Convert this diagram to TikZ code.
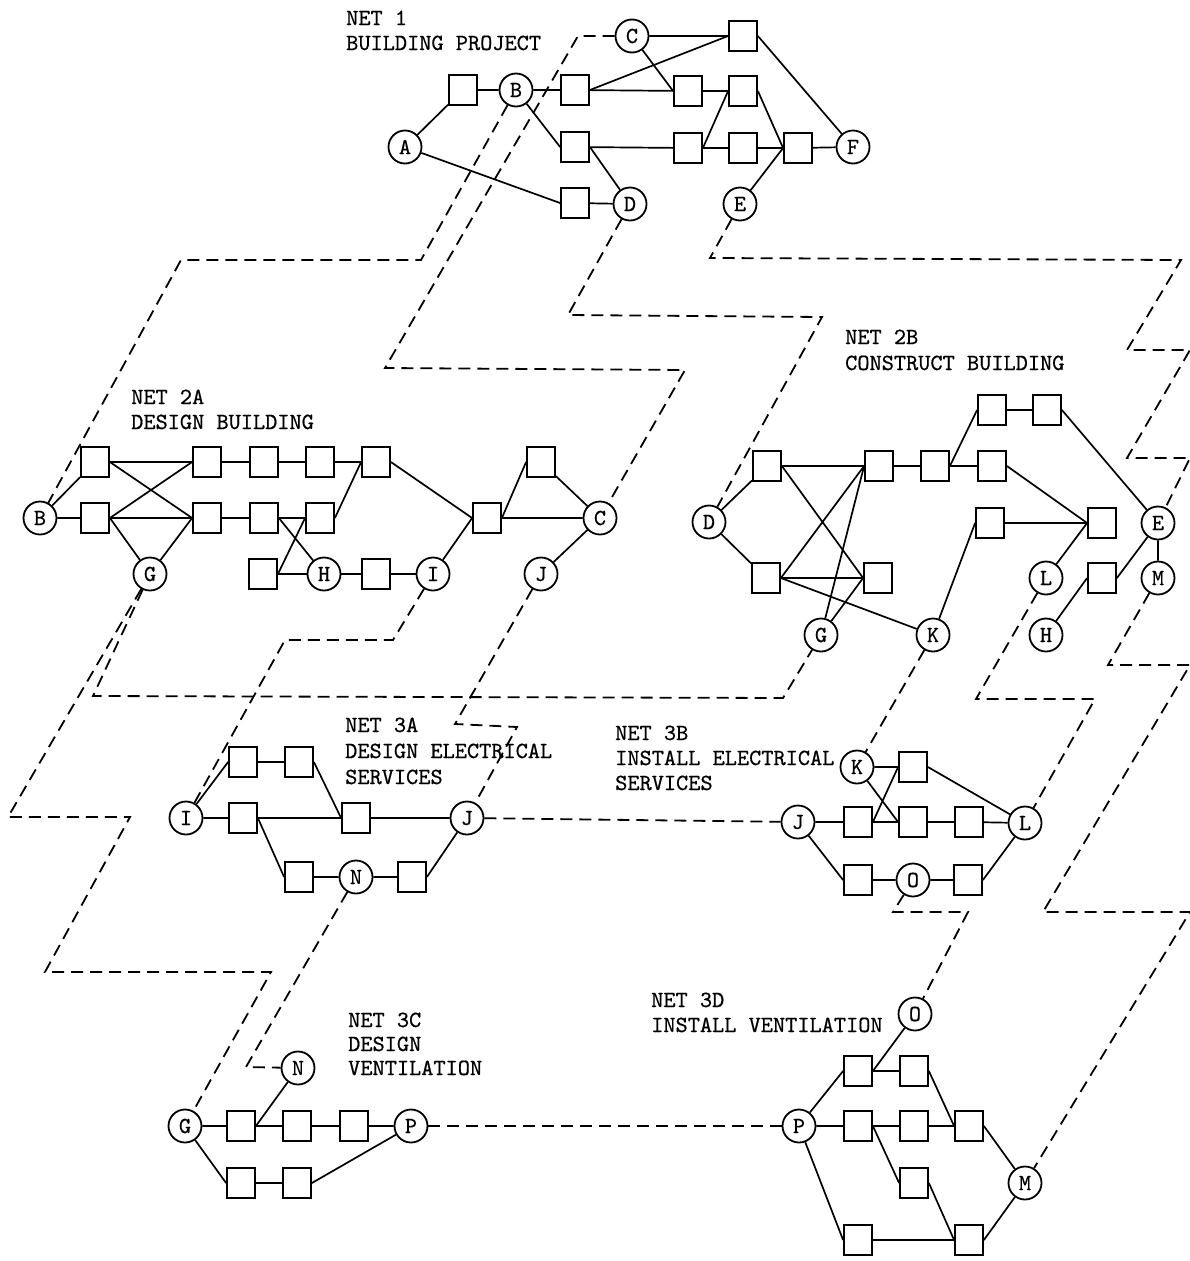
\documentclass[tikz,border=0pt]{standalone}
\usepackage{fontspec}
\newfontfamily\tw[FakeBold=0.6]{lmmono10-regular.otf}
\begin{document}
\begin{tikzpicture}[x=1pt,y=-1pt,
  ev/.style={circle,draw,line width=1.8pt,minimum size=33pt,inner sep=0pt,font=\fontsize{23}{23}\tw},
  act/.style={rectangle,draw,line width=1.8pt,minimum width=28pt,minimum height=30pt,inner sep=0pt},
  ln/.style={line width=1.7pt},
  dl/.style={line width=1.8pt,dash pattern=on 12pt off 7pt},
  lbl/.style={anchor=base west,inner sep=0pt,font=\fontsize{23.2}{25}\tw}]
\fill[white] (0,0) rectangle (1190,1261);
\useasboundingbox (0,0) rectangle (1190,1261);

% ---------- labels
\node[lbl] (t1a) at (346,25) {NET 1};
\node[lbl] (t1b) at (346,50) {BUILDING PROJECT};
\node[lbl] (t2aa) at (131,404) {NET 2A};
\node[lbl] (t2ab) at (131,429) {DESIGN BUILDING};
\node[lbl] (t2ba) at (845,344) {NET 2B};
\node[lbl] (t2bb) at (845,370) {CONSTRUCT BUILDING};
\node[lbl] (t3aa) at (345,732) {NET 3A};
\node[lbl] (t3ab) at (345,758) {DESIGN ELECTRICAL};
\node[lbl] (t3ac) at (345,784) {SERVICES};
\node[lbl] (t3ba) at (615,740) {NET 3B};
\node[lbl] (t3bb) at (615,765) {INSTALL ELECTRICAL};
\node[lbl] (t3bc) at (615,790) {SERVICES};
\node[lbl] (t3ca) at (348,1027) {NET 3C};
\node[lbl] (t3cb) at (348,1051) {DESIGN};
\node[lbl] (t3cc) at (348,1075) {VENTILATION};
\node[lbl] (t3da) at (651,1007) {NET 3D};
\node[lbl] (t3db) at (651,1032) {INSTALL VENTILATION};

% ---------- NET 1
\node[ev] (aA) at (405,147) {A};
\node[act] (as1) at (463,90) {};
\node[ev] (aB) at (516,90) {B};
\node[ev] (aC) at (632,36) {C};
\node[act] (as2) at (743,36) {};
\node[act] (as3) at (575,90) {};
\node[act] (as4) at (688,91) {};
\node[act] (as5) at (743,91) {};
\node[act] (as6) at (575,147) {};
\node[act] (as7) at (688,148) {};
\node[act] (as8) at (743,148) {};
\node[act] (as9) at (798,148) {};
\node[ev] (aF) at (853,147) {F};
\node[act] (as10) at (575,203) {};
\node[ev] (aD) at (630,204) {D};
\node[ev] (aE) at (740,204) {E};
\draw[ln] (aA) -- (as1) -- (aB) -- (as3) -- (as4) -- (as5);
\draw[ln] (aB) -- (as6.west) (aA) -- (as10.west) (as10) -- (aD) (as6.east) -- (aD);
\draw[ln] (as6) -- (as7) -- (as8) -- (as9) -- (aF);
\draw[ln] (as7.east) -- (as5.west) (as3.east) -- (as2.west) (aC) -- (as2.west) (aC) -- (as4.west);
\draw[ln] (as5.east) -- (as9.west) (aE) -- (as9.west) (as2.east) -- (aF);

% ---------- NET 2A
\node[ev] (bB) at (40,518) {B};
\node[act] (bs1) at (95,462) {};
\node[act] (bs2) at (95,518) {};
\node[act] (bs3) at (207,462) {};
\node[act] (bs4) at (264,462) {};
\node[act] (bs5) at (320,462) {};
\node[act] (bs6) at (376,462) {};
\node[act] (bs7) at (207,518) {};
\node[act] (bs8) at (264,518) {};
\node[act] (bs9) at (320,518) {};
\node[act] (bs10) at (487,518) {};
\node[act] (bs11) at (541,462) {};
\node[ev] (bC) at (600,518) {C};
\node[ev] (bG) at (150,574) {G};
\node[act] (bs12) at (263,574) {};
\node[ev] (bH) at (324,574) {H};
\node[act] (bs13) at (376,574) {};
\node[ev] (bI) at (433,574) {I};
\node[ev] (bJ) at (541,574) {J};
\draw[ln] (bB) -- (bs1) (bB) -- (bs2);
\draw[ln] (bs1) -- (bs3) -- (bs4) -- (bs5) -- (bs6);
\draw[ln] (bs1.east) -- (bs7.west) (bs2.east) -- (bs3.west) (bs2) -- (bs7) -- (bs8) -- (bs9);
\draw[ln] (bs2.east) -- (bG) (bG) -- (bs7.west);
\draw[ln] (bs9.east) -- (bs6.west) (bs8.east) -- (bH) (bs12.east) -- (bs9.west);
\draw[ln] (bs12) -- (bH) -- (bs13) -- (bI);
\draw[ln] (bs6.east) -- (bs10.west) (bI) -- (bs10.west) (bs10.east) -- (bs11.west);
\draw[ln] (bs10) -- (bC) (bs11) -- (bC) (bJ) -- (bC);

% ---------- NET 2B
\node[act] (cs1) at (992,410) {};
\node[act] (cs2) at (1047,410) {};
\node[act] (cs3) at (767,466) {};
\node[act] (cs4) at (879,466) {};
\node[act] (cs5) at (935,466) {};
\node[act] (cs6) at (992,466) {};
\node[ev] (cD) at (709,522) {D};
\node[act] (cs7) at (990,523) {};
\node[act] (cs8) at (1102,523) {};
\node[ev] (cE) at (1158,523) {E};
\node[act] (cs9) at (766,578) {};
\node[act] (cs10) at (878,578) {};
\node[ev] (cL) at (1046,578) {L};
\node[act] (cs11) at (1102,578) {};
\node[ev] (cM) at (1158,578) {M};
\node[ev] (cG) at (821,635) {G};
\node[ev] (cK) at (933,635) {K};
\node[ev] (cH) at (1046,635) {H};
\draw[ln] (cD) -- (cs3) (cD) -- (cs9);
\draw[ln] (cs3) -- (cs4) -- (cs5) -- (cs6);
\draw[ln] (cs3.east) -- (cs10.west) (cs9.east) -- (cs4.west) (cs9) -- (cs10) (cs9.east) -- (cK);
\draw[ln] (cG) -- (cs4.west) (cG) -- (cs10.west);
\draw[ln] (cs5.east) -- (cs1.west) (cs1) -- (cs2) (cs2.east) -- (cE);
\draw[ln] (cs6.east) -- (cs8.west) (cs7) -- (cs8) (cK) -- (cs7.west) (cL) -- (cs8.west);
\draw[ln] (cH) -- (cs11.west) (cs11.east) -- (cE) (cE) -- (cM);

% ---------- NET 3A
\node[act] (ds1) at (243,762) {};
\node[act] (ds2) at (299,762) {};
\node[ev] (dI) at (186,818) {I};
\node[act] (ds3) at (243,818) {};
\node[act] (ds4) at (356,818) {};
\node[ev] (dJ) at (467,818) {J};
\node[act] (ds5) at (299,877) {};
\node[ev] (dN) at (356,877) {N};
\node[act] (ds6) at (412,877) {};
\draw[ln] (dI) -- (ds1.west) (dI) -- (ds3) -- (ds4) -- (dJ);
\draw[ln] (ds3.east) -- (ds5.west) (ds1) -- (ds2) (ds2.east) -- (ds4.west);
\draw[ln] (ds5) -- (dN) -- (ds6) (ds6.east) -- (dJ);

% ---------- NET 3B
\node[ev] (eK) at (857,767) {K};
\node[act] (es1) at (913,767) {};
\node[ev] (eJ) at (798,822) {J};
\node[act] (es2) at (858,822) {};
\node[act] (es3) at (913,822) {};
\node[act] (es4) at (969,822) {};
\node[ev] (eL) at (1025,823) {L};
\node[act] (es5) at (858,880) {};
\node[ev] (eO) at (913,880) {O};
\node[act] (es6) at (968,880) {};
\draw[ln] (eK) -- (es1) (eK) -- (es3.west) (es2.east) -- (es1.west);
\draw[ln] (eJ) -- (es2) -- (es3) -- (es4) -- (eL) (es1.east) -- (eL);
\draw[ln] (eJ) -- (es5.west) (es5) -- (eO) -- (es6) (es6.east) -- (eL);

% ---------- NET 3C
\node[ev] (fN) at (298,1068) {N};
\node[ev] (fG) at (185,1126) {G};
\node[act] (fs1) at (241,1126) {};
\node[act] (fs2) at (297,1126) {};
\node[act] (fs3) at (354,1126) {};
\node[ev] (fP) at (411,1126) {P};
\node[act] (fs4) at (241,1183) {};
\node[act] (fs5) at (297,1183) {};
\draw[ln] (fG) -- (fs1) -- (fs2) -- (fs3) -- (fP) (fN) -- (fs1.east);
\draw[ln] (fG) -- (fs4.west) (fs4) -- (fs5) (fs5.east) -- (fP);

% ---------- NET 3D
\node[ev] (gO) at (915,1014) {O};
\node[act] (gs1) at (858,1071) {};
\node[act] (gs2) at (914,1071) {};
\node[ev] (gP) at (799,1126) {P};
\node[act] (gs3) at (858,1126) {};
\node[act] (gs4) at (914,1126) {};
\node[act] (gs5) at (969,1126) {};
\node[act] (gs6) at (914,1183) {};
\node[ev] (gM) at (1025,1183) {M};
\node[act] (gs7) at (858,1240) {};
\node[act] (gs8) at (969,1240) {};
\draw[ln] (gO) -- (gs1.east) (gs1) -- (gs2) (gs2.east) -- (gs5.west);
\draw[ln] (gP) -- (gs1.west) (gP) -- (gs3) -- (gs4) -- (gs5) (gs3.east) -- (gs6.west);
\draw[ln] (gs5.east) -- (gM) (gs6.east) -- (gs8.west) (gP) -- (gs7.west) (gs7) -- (gs8) (gs8.east) -- (gM);

% ---------- dashed links between nets
\draw[dl] (aB) -- (421,260) -- (181,260) -- (bB);
\draw[dl] (aC) -- (578,36) -- (385,368) -- (685,370) -- (bC);
\draw[dl] (aD) -- (568,315) -- (822,317) -- (cD);
\draw[dl] (aE) -- (710,258) -- (1181,260) -- (1127,350) -- (1190,350) -- (1127,458) -- (1190,458) -- (cE);
\draw[dl] (bG) -- (93,696) -- (783,698) -- (cG);
\draw[dl] (bG) -- (8,817) -- (130,817) -- (45,972) -- (271,972) -- (fG);
\draw[dl] (bI) -- (393,640) -- (285,640) -- (dI);
\draw[dl] (bJ) -- (455,724) -- (517,727) -- (dJ);
\draw[dl] (dJ) -- (eJ);
\draw[dl] (cK) -- (eK);
\draw[dl] (cL) -- (976,699) -- (1095,699) -- (eL);
\draw[dl] (cM) -- (1108,665) -- (1190,665) -- (1043,912) -- (1190,912) -- (gM);
\draw[dl] (dN) -- (246,1067) -- (fN);
\draw[dl] (eO) -- (893,912) -- (968,912) -- (gO);
\draw[dl] (fP) -- (gP);
\end{tikzpicture}
\end{document}
